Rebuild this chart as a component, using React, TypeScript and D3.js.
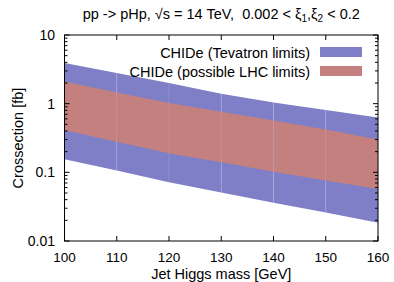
import React, { useRef, useEffect } from "react";
import * as d3 from "d3";

// Higgs mass grid [GeV]
const masses = [100, 110, 120, 130, 140, 150, 160];
// Tevatron-limit band (cross section, fb)
const tevatronHigh = [3.9, 2.8, 2.0, 1.4, 1.04, 0.81, 0.63];
const tevatronLow = [0.155, 0.106, 0.072, 0.051, 0.036, 0.026, 0.0185];
// possible LHC-limit band
const lhcHigh = [2.1, 1.45, 1.02, 0.76, 0.57, 0.42, 0.3];
const lhcLow = [0.41, 0.28, 0.19, 0.14, 0.102, 0.076, 0.057];

const xTicks = [100, 110, 120, 130, 140, 150, 160];
const yTicks = [0.01, 0.1, 1, 10];
const yTickLabels = ["0.01", "0.1", "1", "10"];

const legendLabels = ["CHIDe (Tevatron limits)", "CHIDe (possible LHC limits)"];
const colors = ["#7f7fc8", "#c47f7f"];

const W = 394;
const H = 282;
const margin = { left: 64.5, right: 16, top: 35, bottom: 41 };

const App: React.FC = () => {
  const svgRef = useRef<SVGSVGElement | null>(null);

  useEffect(() => {
    if (!svgRef.current) return;
    const svg = d3.select(svgRef.current);
    svg.selectAll("*").remove();

    const x0 = margin.left;
    const x1 = W - margin.right;
    const y0 = margin.top;
    const y1 = H - margin.bottom;

    const x = d3.scaleLinear().domain([100, 160]).range([x0, x1]);
    const y = d3.scaleLog().domain([0.01, 10]).range([y1, y0]);

    const font = "'Liberation Sans', Arial, sans-serif";
    const fs = 14.5;

    // bands, drawn one segment at a time
    const bands = [
      { hi: tevatronHigh, lo: tevatronLow, color: colors[0] },
      { hi: lhcHigh, lo: lhcLow, color: colors[1] },
    ];
    bands.forEach((b) => {
      const a = d3
        .area<number>()
        .x((k) => x(masses[k]))
        .y0((k) => y(b.lo[k]))
        .y1((k) => y(b.hi[k]));
      for (let i = 0; i < masses.length - 1; i++) {
        svg
          .append("path")
          .attr("d", a([i, i + 1]) as string)
          .attr("fill", b.color);
      }
    });

    // faint seams at data points
    masses.slice(1, -1).forEach((m, i) => {
      const k = i + 1;
      svg
        .append("line")
        .attr("x1", x(m))
        .attr("x2", x(m))
        .attr("y1", y(tevatronHigh[k]))
        .attr("y2", y(tevatronLow[k]))
        .attr("stroke", "#ffffff")
        .attr("stroke-opacity", 0.15)
        .attr("stroke-width", 0.8);
    });

    // frame
    svg
      .append("rect")
      .attr("x", x0)
      .attr("y", y0)
      .attr("width", x1 - x0)
      .attr("height", y1 - y0)
      .attr("fill", "none")
      .attr("stroke", "#000")
      .attr("stroke-width", 1);

    // x ticks (bottom and top)
    xTicks.forEach((t) => {
      const px = x(t);
      svg.append("line").attr("x1", px).attr("x2", px).attr("y1", y1).attr("y2", y1 - 5).attr("stroke", "#000");
      svg.append("line").attr("x1", px).attr("x2", px).attr("y1", y0).attr("y2", y0 + 5).attr("stroke", "#000");
      svg
        .append("text")
        .attr("x", px)
        .attr("y", y1 + 21)
        .attr("text-anchor", "middle")
        .attr("font-family", font)
        .attr("font-size", 13.5)
        .text(t);
    });

    // y ticks, major + minor, both sides
    yTicks.forEach((t, i) => {
      const py = y(t);
      svg.append("line").attr("x1", x0).attr("x2", x0 + 5).attr("y1", py).attr("y2", py).attr("stroke", "#000");
      svg.append("line").attr("x1", x1).attr("x2", x1 - 5).attr("y1", py).attr("y2", py).attr("stroke", "#000");
      svg
        .append("text")
        .attr("x", x0 - 9.5)
        .attr("y", py + 5)
        .attr("text-anchor", "end")
        .attr("font-family", font)
        .attr("font-size", 14)
        .text(yTickLabels[i]);
      if (t < 10) {
        for (let m = 2; m <= 9; m++) {
          const my = y(t * m);
          svg.append("line").attr("x1", x0).attr("x2", x0 + 3).attr("y1", my).attr("y2", my).attr("stroke", "#000");
          svg.append("line").attr("x1", x1).attr("x2", x1 - 3).attr("y1", my).attr("y2", my).attr("stroke", "#000");
        }
      }
    });

    // axis titles
    svg
      .append("text")
      .attr("x", (x0 + x1) / 2)
      .attr("y", 278.5)
      .attr("text-anchor", "middle")
      .attr("font-family", font)
      .attr("font-size", fs)
      .text("Jet Higgs mass [GeV]");
    svg
      .append("text")
      .attr("transform", `translate(23,${(y0 + y1) / 2}) rotate(-90)`)
      .attr("text-anchor", "middle")
      .attr("font-family", font)
      .attr("font-size", fs)
      .text("Crossection [fb]");

    // title
    const title = svg
      .append("text")
      .attr("x", (x0 + x1) / 2)
      .attr("y", 18.5)
      .attr("text-anchor", "middle")
      .attr("font-family", font)
      .attr("font-size", fs);
    title.append("tspan").text("pp -> pHp, \u221as = 14 TeV,\u00a0 0.002 < \u03be");
    title.append("tspan").attr("font-size", 10).attr("dy", 3).text("1");
    title.append("tspan").attr("dy", -3).text(",\u03be");
    title.append("tspan").attr("font-size", 10).attr("dy", 3).text("2");
    title.append("tspan").attr("dy", -3).text(" < 0.2");

    // legend
    legendLabels.forEach((lab, i) => {
      const ly = 52.5 + i * 19;
      svg
        .append("text")
        .attr("x", 310)
        .attr("y", ly + 5.2)
        .attr("text-anchor", "end")
        .attr("font-family", font)
        .attr("font-size", fs)
        .text(lab);
      svg
        .append("rect")
        .attr("x", 320)
        .attr("y", ly - 5.5)
        .attr("width", 42)
        .attr("height", 10)
        .attr("fill", colors[i]);
    });
  }, []);

  return (
    <svg
      ref={svgRef}
      width={W}
      height={H}
      style={{ position: "absolute", left: 0, top: 0, background: "#fff" }}
    ></svg>
  );
};

export default App;
